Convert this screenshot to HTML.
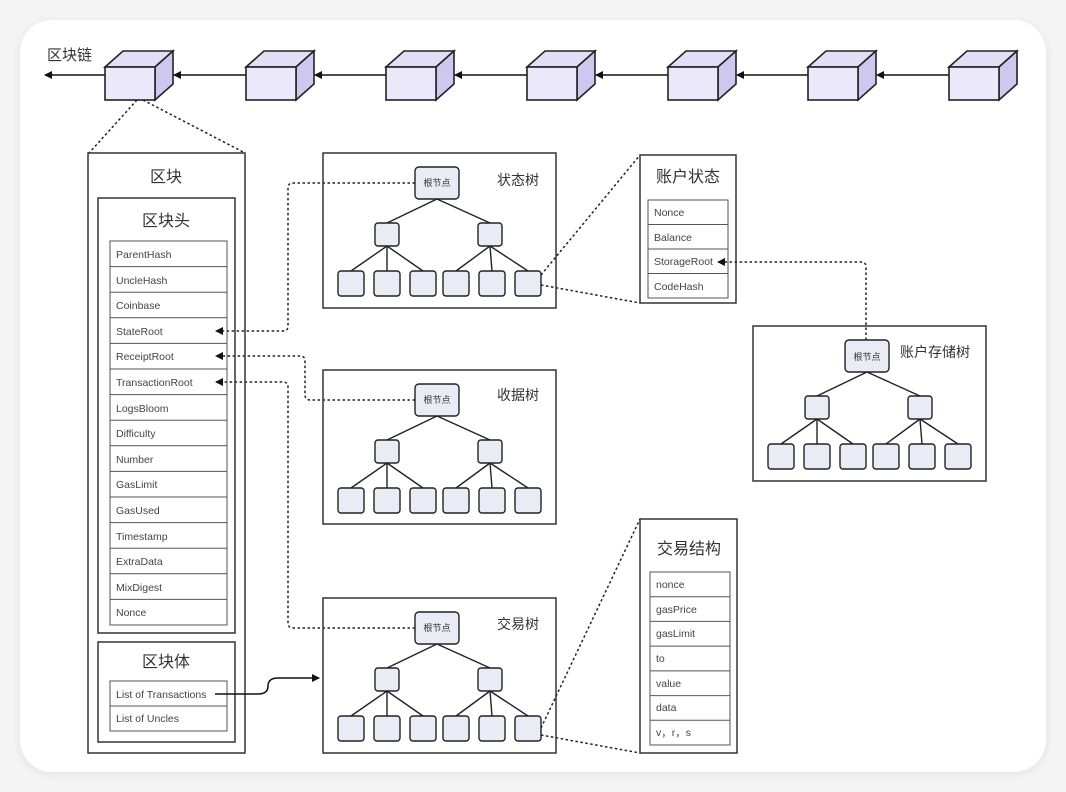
<!DOCTYPE html>
<html><head><meta charset="utf-8"><style>
html,body{margin:0;padding:0;background:#f4f4f4;}
body{width:1066px;height:792px;position:relative;overflow:hidden;}
.card{position:absolute;left:20px;top:20px;width:1026px;height:752px;background:#fff;border-radius:32px;box-shadow:0 2px 10px rgba(0,0,0,0.08);}
svg{position:absolute;left:0;top:0;}
text{font-family:"Liberation Sans","Noto Sans CJK SC",sans-serif;fill:#333;}
.t{font-size:16px;}
.f{font-size:10.5px;fill:#444;}
.r{font-size:9px;fill:#333;}
</style></head><body>
<div class="card"></div>
<svg width="1066" height="792" viewBox="0 0 1066 792">
<defs>
<g id="cube">
<polygon points="0,16 18,0 68,0 50,16" fill="#e2def5" stroke="#222" stroke-width="1.6"/>
<polygon points="50,16 68,0 68,33 50,49" fill="#cfc8ee" stroke="#222" stroke-width="1.6"/>
<rect x="0" y="16" width="50" height="33" fill="#ebe8fb" stroke="#222" stroke-width="1.6"/>
</g>
<marker id="ah" markerWidth="8" markerHeight="8" refX="7" refY="4" orient="auto" markerUnits="userSpaceOnUse"><path d="M0,0 L8,4 L0,8 z" fill="#111"/></marker>
<g id="tree" stroke="#222" stroke-width="1.4" fill="#e9ecf4">
<line x1="114" y1="46" x2="64" y2="70"/><line x1="114" y1="46" x2="167" y2="70"/>
<line x1="64" y1="93" x2="28" y2="118"/><line x1="64" y1="93" x2="64" y2="118"/><line x1="64" y1="93" x2="100" y2="118"/>
<line x1="167" y1="93" x2="133" y2="118"/><line x1="167" y1="93" x2="169" y2="118"/><line x1="167" y1="93" x2="205" y2="118"/>
<rect x="92" y="14" width="44" height="32" rx="4"/>
<rect x="52" y="70" width="24" height="23" rx="3"/><rect x="155" y="70" width="24" height="23" rx="3"/>
<rect x="15" y="118" width="26" height="25" rx="3"/><rect x="51" y="118" width="26" height="25" rx="3"/><rect x="87" y="118" width="26" height="25" rx="3"/>
<rect x="120" y="118" width="26" height="25" rx="3"/><rect x="156" y="118" width="26" height="25" rx="3"/><rect x="192" y="118" width="26" height="25" rx="3"/>
</g>
</defs>

<!-- chain -->
<text x="47" y="60" class="t" style="font-size:15px">区块链</text>
<g stroke="#111" stroke-width="1.4" fill="none" marker-end="url(#ah)">
<line x1="105" y1="75" x2="45" y2="75"/>
<line x1="246" y1="75" x2="174" y2="75"/>
<line x1="386" y1="75" x2="315" y2="75"/>
<line x1="527" y1="75" x2="455" y2="75"/>
<line x1="668" y1="75" x2="596" y2="75"/>
<line x1="808" y1="75" x2="737" y2="75"/>
<line x1="949" y1="75" x2="877" y2="75"/>
</g>
<use href="#cube" x="105" y="51"/><use href="#cube" x="246" y="51"/><use href="#cube" x="386" y="51"/>
<use href="#cube" x="527" y="51"/><use href="#cube" x="668" y="51"/><use href="#cube" x="808" y="51"/><use href="#cube" x="949" y="51"/>

<g stroke="#222" stroke-width="1.5" stroke-dasharray="2.5,2.5" fill="none">
<line x1="137" y1="100" x2="89" y2="153"/>
<line x1="143" y1="100" x2="245" y2="153"/>
<line x1="541" y1="275" x2="640" y2="155"/>
<line x1="541" y1="285" x2="640" y2="303"/>
<line x1="541" y1="728" x2="640" y2="519"/>
<line x1="541" y1="735" x2="640" y2="753"/>
<path d="M415,183 H293 Q288,183 288,188 V326 Q288,331 283,331 H216" marker-end="url(#ah)"/>
<path d="M415,400 H310 Q305,400 305,395 V361 Q305,356 300,356 H216" marker-end="url(#ah)"/>
<path d="M415,628 H293 Q288,628 288,623 V387 Q288,382 283,382 H216" marker-end="url(#ah)"/>
<path d="M866,340 V267 Q866,262 861,262 H718" marker-end="url(#ah)"/>
</g>

<!-- block -->
<g fill="none" stroke="#333" stroke-width="1.5">
<rect x="88" y="153" width="157" height="600"/>
<rect x="98" y="198" width="137" height="435"/>
<rect x="98" y="642" width="137" height="100"/>
</g>
<text x="166" y="182" class="t" text-anchor="middle">区块</text>
<text x="166" y="226" class="t" text-anchor="middle">区块头</text>
<text x="166" y="667" class="t" text-anchor="middle">区块体</text>
<g fill="none" stroke="#555" stroke-width="1">
<rect x="110" y="241" width="117" height="384"/>
<path d="M110,266.6H227M110,292.2H227M110,317.8H227M110,343.4H227M110,369H227M110,394.6H227M110,420.2H227M110,445.8H227M110,471.4H227M110,497H227M110,522.6H227M110,548.2H227M110,573.8H227M110,599.4H227"/>
<rect x="110" y="681" width="117" height="50"/>
<path d="M110,706H227"/>
</g>
<g class="f">
<text x="116" y="258" class="f">ParentHash</text>
<text x="116" y="284" class="f">UncleHash</text>
<text x="116" y="309" class="f">Coinbase</text>
<text x="116" y="335" class="f">StateRoot</text>
<text x="116" y="360" class="f">ReceiptRoot</text>
<text x="116" y="386" class="f">TransactionRoot</text>
<text x="116" y="412" class="f">LogsBloom</text>
<text x="116" y="437" class="f">Difficulty</text>
<text x="116" y="463" class="f">Number</text>
<text x="116" y="488" class="f">GasLimit</text>
<text x="116" y="514" class="f">GasUsed</text>
<text x="116" y="540" class="f">Timestamp</text>
<text x="116" y="565" class="f">ExtraData</text>
<text x="116" y="591" class="f">MixDigest</text>
<text x="116" y="616" class="f">Nonce</text>
<text x="116" y="698" class="f">List of Transactions</text>
<text x="116" y="722" class="f">List of Uncles</text>
</g>
<path d="M215,694 H258 Q268,694 268,686 Q268,678 278,678 H319" fill="none" stroke="#111" stroke-width="1.5" marker-end="url(#ah)"/>

<!-- trees -->
<rect x="323" y="153" width="233" height="155" fill="none" stroke="#333" stroke-width="1.5"/>
<use href="#tree" x="323" y="153"/>
<text x="437" y="186" class="r" text-anchor="middle">根节点</text>
<text x="497" y="185" class="t" style="font-size:14px">状态树</text>

<rect x="323" y="370" width="233" height="154" fill="none" stroke="#333" stroke-width="1.5"/>
<use href="#tree" x="323" y="370"/>
<text x="437" y="403" class="r" text-anchor="middle">根节点</text>
<text x="497" y="400" class="t" style="font-size:14px">收据树</text>

<rect x="323" y="598" width="233" height="155" fill="none" stroke="#333" stroke-width="1.5"/>
<use href="#tree" x="323" y="598"/>
<text x="437" y="631" class="r" text-anchor="middle">根节点</text>
<text x="497" y="629" class="t" style="font-size:14px">交易树</text>

<rect x="753" y="326" width="233" height="155" fill="none" stroke="#333" stroke-width="1.5"/>
<use href="#tree" x="753" y="326"/>
<text x="867" y="360" class="r" text-anchor="middle">根节点</text>
<text x="900" y="357" class="t" style="font-size:14px">账户存储树</text>

<!-- account state -->
<rect x="640" y="155" width="96" height="148" fill="none" stroke="#333" stroke-width="1.5"/>
<text x="688" y="182" class="t" text-anchor="middle">账户状态</text>
<g fill="none" stroke="#555" stroke-width="1">
<rect x="648" y="200" width="80" height="98"/>
<path d="M648,224.5H728M648,249H728M648,273.5H728"/>
</g>
<text x="654" y="216" class="f">Nonce</text>
<text x="654" y="241" class="f">Balance</text>
<text x="654" y="265" class="f">StorageRoot</text>
<text x="654" y="290" class="f">CodeHash</text>

<!-- tx struct -->
<rect x="640" y="519" width="97" height="234" fill="none" stroke="#333" stroke-width="1.5"/>
<text x="689" y="554" class="t" text-anchor="middle">交易结构</text>
<g fill="none" stroke="#555" stroke-width="1">
<rect x="650" y="572" width="80" height="173"/>
<path d="M650,596.7H730M650,621.4H730M650,646.1H730M650,670.9H730M650,695.6H730M650,720.3H730"/>
</g>
<text x="656" y="588" class="f">nonce</text>
<text x="656" y="613" class="f">gasPrice</text>
<text x="656" y="637" class="f">gasLimit</text>
<text x="656" y="662" class="f">to</text>
<text x="656" y="687" class="f">value</text>
<text x="656" y="711" class="f">data</text>
<text x="656" y="736" class="f">v，r，s</text>
</svg>
</body></html>
